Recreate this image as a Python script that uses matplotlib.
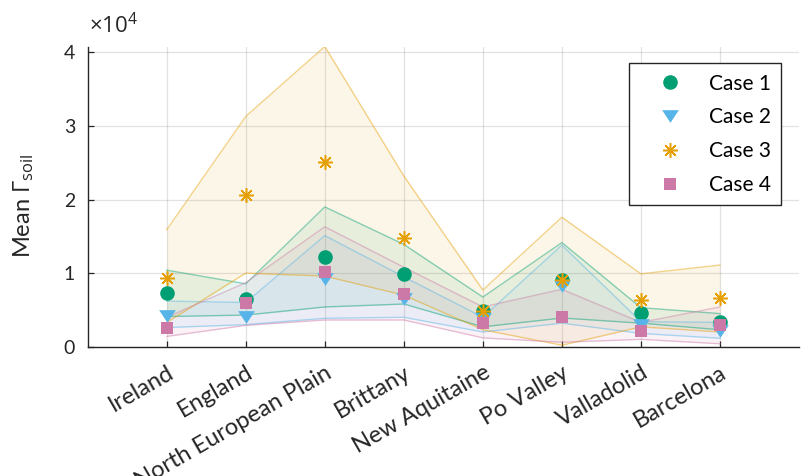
import numpy as np
import matplotlib
matplotlib.use('Agg')
import matplotlib.pyplot as plt
from matplotlib.path import Path
import matplotlib.transforms as mtransforms
from matplotlib.ticker import FuncFormatter

# ---------------- data ----------------
regions = ['Ireland', 'England', 'North European Plain', 'Brittany',
           'New Aquitaine', 'Po Valley', 'Valladolid', 'Barcelona']
case_labels = ['Case 1', 'Case 2', 'Case 3', 'Case 4']

case1_mean = [7300, 6500, 12200, 9900, 4800, 9100, 4600, 3300]
case1_upper = [10400, 8550, 19000, 13900, 6750, 14150, 5300, 4500]
case1_lower = [4100, 4300, 5400, 5800, 2700, 3900, 3200, 2300]

case2_mean = [4200, 4100, 9200, 6500, 3700, 8300, 2900, 2200]
case2_upper = [6200, 6000, 15100, 9500, 4000, 13800, 3400, 3300]
case2_lower = [2600, 3000, 3860, 4000, 2000, 3200, 1800, 1150]

case3_mean = [9400, 20600, 25100, 14800, 4900, 9000, 6300, 6600]
case3_upper = [15900, 31300, 40800, 23200, 7700, 17600, 9900, 11100]
case3_lower = [3300, 10000, 9600, 7000, 2300, 200, 2700, 2000]

case4_mean = [2600, 5900, 10200, 7100, 3200, 4100, 2200, 3000]
case4_upper = [4000, 8700, 16300, 10800, 5400, 7800, 3300, 5400]
case4_lower = [1400, 2900, 3630, 3630, 1200, 600, 1000, 400]

ytick_values = [0, 10000, 20000, 30000, 40000]

# ---------------- style ----------------
plt.rcParams['font.family'] = ['Lato', 'DejaVu Sans']
plt.rcParams['mathtext.fontset'] = 'custom'
plt.rcParams['mathtext.rm'] = 'Open Sans'
plt.rcParams['mathtext.it'] = 'Open Sans:italic'
plt.rcParams['mathtext.bf'] = 'Open Sans:bold'

dark = '#262626'
colors = ['#009E73', '#56B4E9', '#E69F00', '#CC79A7']

tri = Path([(-1, 0.76), (1, 0.76), (0, -0.76), (-1, 0.76)],
           [Path.MOVETO, Path.LINETO, Path.LINETO, Path.CLOSEPOLY])
markers = ['o', tri, (8, 2, 0), 's']
msizes = [10.5, 12.0, 10.5, 8.6]

means = [case1_mean, case2_mean, case3_mean, case4_mean]
uppers = [case1_upper, case2_upper, case3_upper, case4_upper]
lowers = [case1_lower, case2_lower, case3_lower, case4_lower]

W, H = 801, 476
fig = plt.figure(figsize=(W / 100, H / 100), dpi=100)
ax_l, ax_r, ax_t, ax_b = 87.7, 799.0, 46.5, 346.7
ax = fig.add_axes([ax_l / W, (H - ax_b) / H, (ax_r - ax_l) / W, (ax_b - ax_t) / H])

x = np.arange(1, len(regions) + 1)

for i in range(4):
    c = colors[i]
    ax.fill_between(x, lowers[i], uppers[i], color=c, alpha=0.09, lw=0, zorder=2)
    ax.plot(x, uppers[i], color=c, alpha=0.45, lw=1.0, zorder=3)
    ax.plot(x, lowers[i], color=c, alpha=0.45, lw=1.0, zorder=3)

for i in range(4):
    c = colors[i]
    kw = dict(ls='none', marker=markers[i], ms=msizes[i], color=c,
              label=case_labels[i], zorder=5 + i)
    if i == 2:
        kw.update(mew=1.1)
    else:
        kw.update(mew=0)
    ax.plot(x, means[i], **kw)

ax.set_xlim(0, len(regions) + 1)
ax.set_ylim(0, max(case3_upper))

ax.set_yticks(ytick_values)
ax.yaxis.set_major_formatter(FuncFormatter(lambda v, p: f'{v / 1e4:g}'))
ax.set_xticks(x)
ax.set_xticklabels(regions, fontsize=17, rotation=30, ha='right', va='top',
                   rotation_mode='anchor', color=dark)
offset = mtransforms.ScaledTranslation(7.5 / 100, 0, fig.dpi_scale_trans)
for lbl in ax.get_xticklabels():
    lbl.set_transform(lbl.get_transform() + offset)

ax.tick_params(axis='x', direction='in', length=4, width=0.9, colors=dark,
               pad=11.0, labelsize=17)
ax.tick_params(axis='y', direction='in', length=4, width=0.9, colors=dark,
               pad=9, labelsize=14)

for s in ['top', 'right']:
    ax.spines[s].set_visible(False)
for s in ['left', 'bottom']:
    ax.spines[s].set_color(dark)
    ax.spines[s].set_linewidth(1.0)

ax.grid(True, color=dark, alpha=0.13, lw=0.9)
ax.set_axisbelow(True)

ax.set_ylabel(r'Mean $\Gamma_{\mathrm{soil}}$', fontsize=17, color=dark)
ax.yaxis.set_label_coords(-0.073, 0.47)

ax.annotate(r'$\times10^{4}$', xy=(0, 1), xycoords='axes fraction',
            xytext=(1, 9.5), textcoords='offset points', fontsize=16,
            color=dark, ha='left', va='baseline')

leg = ax.legend(loc='upper right', bbox_to_anchor=(0.9747, 0.944),
                borderaxespad=0, numpoints=1, fontsize=15, frameon=True,
                fancybox=False, framealpha=1, edgecolor=dark,
                handlelength=2.93, handletextpad=0.37, labelspacing=0.66,
                borderpad=0.5)
leg.get_frame().set_linewidth(1.0)
for t in leg.get_texts():
    t.set_color('black')

fig.savefig('out.png', dpi=100)
